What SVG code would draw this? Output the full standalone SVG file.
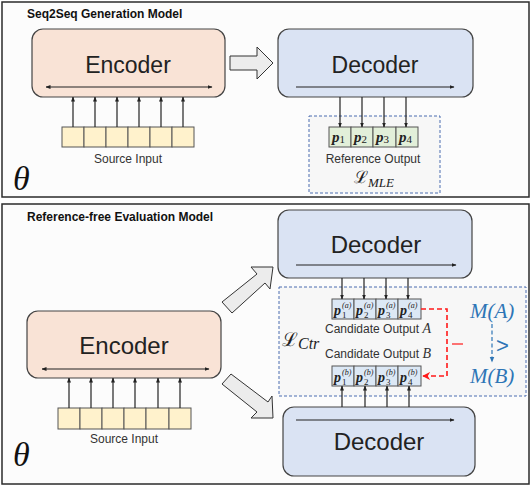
<svg xmlns="http://www.w3.org/2000/svg" width="531" height="486" viewBox="0 0 531 486">
<defs>
<marker id="ah" viewBox="0 0 10 10" refX="9" refY="5" markerWidth="5" markerHeight="5" orient="auto-start-reverse" markerUnits="userSpaceOnUse"><path d="M0,1 L10,5 L0,9 z" fill="#222"/></marker>
<marker id="ahr" viewBox="0 0 10 10" refX="9" refY="5" markerWidth="8" markerHeight="8" orient="auto" markerUnits="userSpaceOnUse"><path d="M0,0 L10,5 L0,10 L3,5 z" fill="#ff1a1a"/></marker>
<marker id="ahb" viewBox="0 0 10 10" refX="9" refY="5" markerWidth="6" markerHeight="6" orient="auto" markerUnits="userSpaceOnUse"><path d="M0,1 L10,5 L0,9 z" fill="#2e75b6"/></marker>
<style>
.panel{fill:#fcfcfc;stroke:#2b2b2b;stroke-width:1.5}
.title{font-family:"Liberation Sans",Arial,sans-serif;font-weight:bold;font-size:12px;fill:#111}
.enc{fill:#f9e3d6;stroke:#444;stroke-width:1.2}
.dec{fill:#dae3f3;stroke:#444;stroke-width:1.2}
.big{font-family:"Liberation Sans",Arial,sans-serif;fill:#222;text-anchor:middle}
.lab{font-family:"Liberation Sans",Arial,sans-serif;font-size:12px;fill:#333;text-anchor:middle}
.in{fill:#fff2cc;stroke:#555;stroke-width:1}
.out{fill:#e2efd9;stroke:#555;stroke-width:1}
.cand{fill:#dce8f5;stroke:#555;stroke-width:1}
.dbox{fill:#f7f7f7;stroke:#4a6cb0;stroke-width:1;stroke-dasharray:3,2}
.ln{stroke:#222;stroke-width:1.2;fill:none}
.fat{fill:#ececec;stroke:#333;stroke-width:1}
.p{font-family:"Liberation Serif","Times New Roman",serif;font-weight:bold;font-style:italic;fill:#222}
.m{font-family:"Liberation Serif","Times New Roman",serif;font-style:italic}
.theta{font-family:"Liberation Serif","Times New Roman",serif;font-style:italic;font-size:34px;fill:#111}
</style>
</defs>

<g id="panel-top">
<rect class="panel" x="2" y="2" width="527" height="195"/>
<text class="title" x="27" y="18">Seq2Seq Generation Model</text>
<text class="theta" x="13" y="190">θ</text>
</g>
<g id="panel-bottom">
<rect class="panel" x="2" y="204" width="527" height="280"/>
<text class="title" x="27" y="221">Reference-free Evaluation Model</text>
<text class="theta" x="13" y="466">θ</text>
</g>

<g id="encoder-top">
<rect class="enc" x="32" y="29" width="193" height="68" rx="11"/>
<text class="big" x="128" y="73" font-size="23">Encoder</text>
</g>
<g id="source-input-top">
<rect class="in" x="62" y="127" width="22" height="20"/>
<rect class="in" x="84" y="127" width="22" height="20"/>
<rect class="in" x="106" y="127" width="22" height="20"/>
<rect class="in" x="128" y="127" width="22" height="20"/>
<rect class="in" x="150" y="127" width="22" height="20"/>
<rect class="in" x="172" y="127" width="22" height="20"/>
<text class="lab" x="128" y="163">Source Input</text>
</g>
<g id="decoder-top">
<rect class="dec" x="278" y="29" width="195" height="68" rx="11"/>
<text class="big" x="375" y="73" font-size="23">Decoder</text>
</g>
<g id="reference-output">
<rect class="dbox" x="309" y="116" width="131" height="77"/>
<rect class="out" x="329" y="127" width="22" height="20"/>
<rect class="out" x="351" y="127" width="22" height="20"/>
<rect class="out" x="373" y="127" width="23" height="20"/>
<rect class="out" x="396" y="127" width="22" height="20"/>
<text class="p" font-size="15" x="332" y="142">p<tspan font-size="11" font-weight="normal" font-style="normal" dy="1">1</tspan></text>
<text class="p" font-size="15" x="354" y="142">p<tspan font-size="11" font-weight="normal" font-style="normal" dy="1">2</tspan></text>
<text class="p" font-size="15" x="376" y="142">p<tspan font-size="11" font-weight="normal" font-style="normal" dy="1">3</tspan></text>
<text class="p" font-size="15" x="399" y="142">p<tspan font-size="11" font-weight="normal" font-style="normal" dy="1">4</tspan></text>
<text class="lab" x="373" y="163">Reference Output</text>
<text x="354" y="183" font-family="DejaVu Serif,serif" font-size="17" fill="#222">ℒ<tspan class="m" font-family="Liberation Serif,serif" font-size="13" dy="4">MLE</tspan></text>
</g>

<g id="encoder-bottom">
<rect class="enc" x="27" y="311" width="194" height="67" rx="11"/>
<text class="big" x="124" y="354" font-size="24">Encoder</text>
</g>
<g id="source-input-bottom">
<rect class="in" x="58" y="408" width="22" height="21"/>
<rect class="in" x="80" y="408" width="22" height="21"/>
<rect class="in" x="102" y="408" width="22" height="21"/>
<rect class="in" x="124" y="408" width="22" height="21"/>
<rect class="in" x="146" y="408" width="23" height="21"/>
<rect class="in" x="169" y="408" width="22" height="21"/>
<text class="lab" x="124" y="443">Source Input</text>
</g>
<g id="decoder-a">
<rect class="dec" x="278" y="210" width="194" height="68" rx="11"/>
<text class="big" x="376" y="253" font-size="24">Decoder</text>
</g>
<g id="decoder-b">
<rect class="dec" x="283" y="407" width="192" height="69" rx="11"/>
<text class="big" x="379" y="450" font-size="24">Decoder</text>
</g>
<g id="candidates">
<rect class="dbox" x="279" y="287" width="247" height="109"/>
<rect class="cand" x="332" y="299" width="22" height="20"/>
<rect class="cand" x="354" y="299" width="22" height="20"/>
<rect class="cand" x="376" y="299" width="22" height="20"/>
<rect class="cand" x="398" y="299" width="23" height="20"/>
<rect class="cand" x="332" y="366" width="22" height="20"/>
<rect class="cand" x="354" y="366" width="22" height="20"/>
<rect class="cand" x="376" y="366" width="22" height="20"/>
<rect class="cand" x="398" y="366" width="23" height="20"/>
<g class="p" font-size="14">
<text x="334" y="315">p</text><text x="356" y="315">p</text><text x="378" y="315">p</text><text x="400" y="315">p</text>
<text x="334" y="382">p</text><text x="356" y="382">p</text><text x="378" y="382">p</text><text x="400" y="382">p</text>
</g>
<g font-family="Liberation Serif,serif" font-size="9" fill="#222">
<text x="342" y="318">1</text><text x="364" y="318">2</text><text x="386" y="318">3</text><text x="408" y="318">4</text>
<text x="342" y="385">1</text><text x="364" y="385">2</text><text x="386" y="385">3</text><text x="408" y="385">4</text>
<g font-style="italic" font-size="8">
<text x="342" y="308">(a)</text><text x="364" y="308">(a)</text><text x="386" y="308">(a)</text><text x="408" y="308">(a)</text>
<text x="342" y="375">(b)</text><text x="364" y="375">(b)</text><text x="386" y="375">(b)</text><text x="408" y="375">(b)</text>
</g>
</g>
<text class="lab" x="378" y="333">Candidate Output <tspan class="m" font-family="Liberation Serif,serif" font-size="14">A</tspan></text>
<text class="lab" x="378" y="358">Candidate Output <tspan class="m" font-family="Liberation Serif,serif" font-size="14">B</tspan></text>
<text x="282" y="346" font-family="DejaVu Serif,serif" font-size="19" fill="#222">ℒ<tspan class="m" font-family="Liberation Serif,serif" font-size="16" dy="3">Ctr</tspan></text>
<text x="470" y="318" class="m" font-family="Liberation Serif,serif" font-size="21" fill="#2e75b6">M(A)</text>
<text x="470" y="383" class="m" font-family="Liberation Serif,serif" font-size="21" fill="#2e75b6">M(B)</text>
<text x="496" y="353" font-family="Liberation Sans,sans-serif" font-size="22" fill="#2e75b6">&gt;</text>
</g>

<g id="connectors">
<line class="ln" x1="46" y1="87" x2="212" y2="87" marker-start="url(#ah)" marker-end="url(#ah)"/>
<line class="ln" x1="296" y1="87" x2="454" y2="87" marker-end="url(#ah)"/>
<line class="ln" x1="42" y1="369" x2="209" y2="369" marker-start="url(#ah)" marker-end="url(#ah)"/>
<line class="ln" x1="296" y1="265" x2="456" y2="265" marker-end="url(#ah)"/>
<line class="ln" x1="296" y1="420" x2="454" y2="420" marker-end="url(#ah)"/>
<line class="ln" x1="73" y1="127" x2="73" y2="97" marker-end="url(#ah)"/>
<line class="ln" x1="95" y1="127" x2="95" y2="97" marker-end="url(#ah)"/>
<line class="ln" x1="117" y1="127" x2="117" y2="97" marker-end="url(#ah)"/>
<line class="ln" x1="139" y1="127" x2="139" y2="97" marker-end="url(#ah)"/>
<line class="ln" x1="161" y1="127" x2="161" y2="97" marker-end="url(#ah)"/>
<line class="ln" x1="183" y1="127" x2="183" y2="97" marker-end="url(#ah)"/>
<line class="ln" x1="69" y1="408" x2="69" y2="378" marker-end="url(#ah)"/>
<line class="ln" x1="91" y1="408" x2="91" y2="378" marker-end="url(#ah)"/>
<line class="ln" x1="113" y1="408" x2="113" y2="378" marker-end="url(#ah)"/>
<line class="ln" x1="135" y1="408" x2="135" y2="378" marker-end="url(#ah)"/>
<line class="ln" x1="158" y1="408" x2="158" y2="378" marker-end="url(#ah)"/>
<line class="ln" x1="180" y1="408" x2="180" y2="378" marker-end="url(#ah)"/>
<line class="ln" x1="340" y1="97" x2="340" y2="127" marker-end="url(#ah)"/>
<line class="ln" x1="362" y1="97" x2="362" y2="127" marker-end="url(#ah)"/>
<line class="ln" x1="384" y1="97" x2="384" y2="127" marker-end="url(#ah)"/>
<line class="ln" x1="406" y1="97" x2="406" y2="127" marker-end="url(#ah)"/>
<line class="ln" x1="342" y1="278" x2="342" y2="299" marker-end="url(#ah)"/>
<line class="ln" x1="364" y1="278" x2="364" y2="299" marker-end="url(#ah)"/>
<line class="ln" x1="386" y1="278" x2="386" y2="299" marker-end="url(#ah)"/>
<line class="ln" x1="408" y1="278" x2="408" y2="299" marker-end="url(#ah)"/>
<line class="ln" x1="342" y1="407" x2="342" y2="386" marker-end="url(#ah)"/>
<line class="ln" x1="365" y1="407" x2="365" y2="386" marker-end="url(#ah)"/>
<line class="ln" x1="387" y1="407" x2="387" y2="386" marker-end="url(#ah)"/>
<line class="ln" x1="409" y1="407" x2="409" y2="386" marker-end="url(#ah)"/>
<polygon class="fat" points="230,56 257,56 257,47 273,63 257,79 257,70 230,70"/>
<polygon class="fat" points="222,302 257,274 251,267 273,267 270,289 265,283 232,313"/>
<polygon class="fat" points="231,374 268,402 272,396 273,418 251,418 257,412 222,384"/>
<path d="M421,309 H447 V376 H423" fill="none" stroke="#ff1a1a" stroke-width="1.6" stroke-dasharray="5,3" marker-end="url(#ahr)"/>
<line x1="452" y1="344" x2="463" y2="344" stroke="#ff1a1a" stroke-width="1.2"/>
<line x1="492" y1="324" x2="492" y2="362" stroke="#2e75b6" stroke-width="1.2" stroke-dasharray="4,2.5" marker-end="url(#ahb)"/>
</g>
</svg>
